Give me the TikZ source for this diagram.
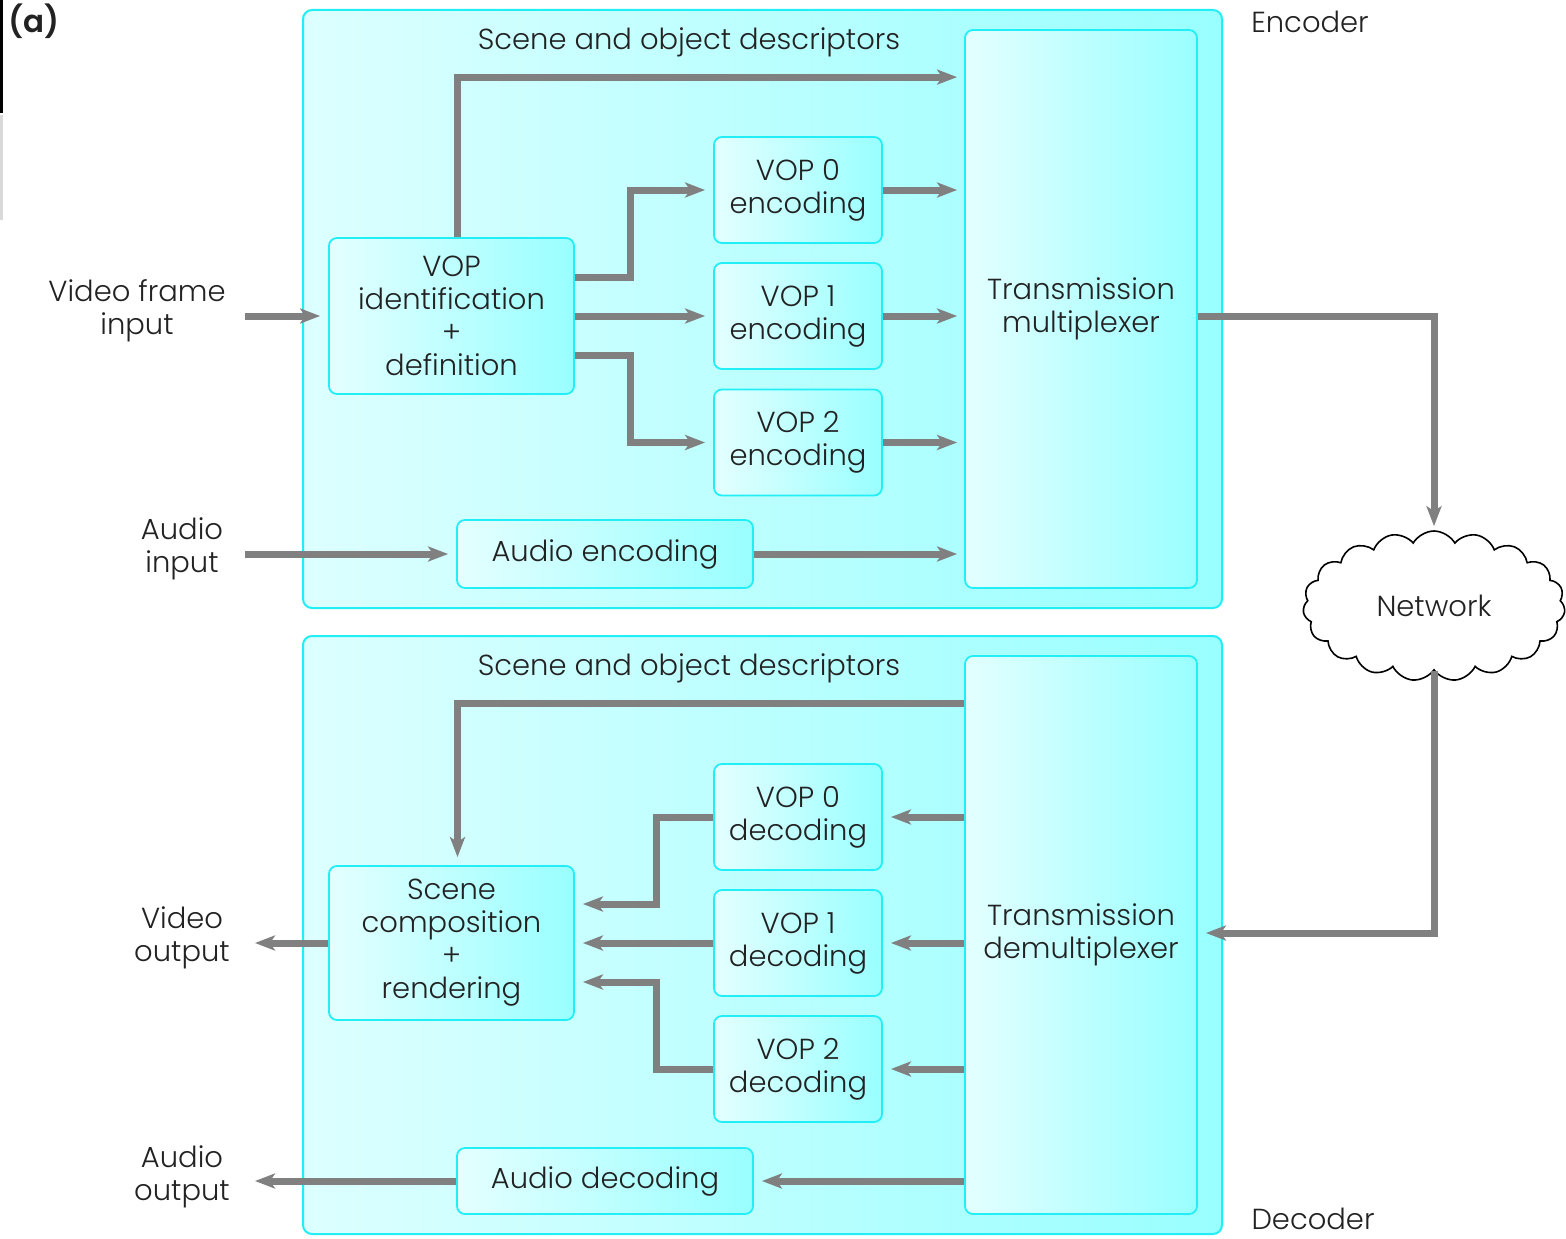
\documentclass[tikz,border=0pt]{standalone}
\usepackage{fontspec}
\setmainfont{Poppins}[UprightFont={* Light}, BoldFont={* SemiBold}]
\usetikzlibrary{arrows.meta,shapes.symbols,calc}
\definecolor{panelL}{HTML}{DDFFFF}
\definecolor{panelR}{HTML}{99FFFF}
\definecolor{boxL}{HTML}{E4FFFF}
\definecolor{boxR}{HTML}{99FFFF}
\definecolor{edge}{HTML}{22EEF5}
\definecolor{wire}{HTML}{808080}
\definecolor{ink}{HTML}{222222}
\begin{document}
\begin{tikzpicture}[x=1pt,y=-1pt,
  every node/.style={font=\fontsize{29}{33}\selectfont, text=ink},
  panel/.style={draw=edge, line width=2pt, rounded corners=9pt, shade, left color=panelL, right color=panelR, inner sep=0pt},
  blk/.style={draw=edge, line width=1.8pt, rounded corners=8pt, shade, left color=boxL, right color=boxR, align=center, inner sep=0pt},
  lbl/.style={align=center, inner sep=0pt},
  arr/.style={draw=wire, line width=7pt, -{Stealth[length=20pt,width=15pt,inset=5pt]}, shorten >=8pt}
]
\useasboundingbox (0,0) rectangle (1566,1239);
\fill[white] (0,0) rectangle (1566,1239);
% edge strip at the far left
\fill[black] (0,0) rectangle (3,113);
\fill[gray!30] (0,115) rectangle (3,220);

% panels
\node[panel, minimum width=919pt, minimum height=598pt] (encp) at (762.5,309) {};
\node[panel, minimum width=919pt, minimum height=598pt] (decp) at (762.5,935) {};

% encoder blocks
\node[blk, minimum width=232pt, minimum height=558pt] (mux) at (1081,309) {Transmission\\multiplexer};
\node[blk, minimum width=245pt, minimum height=156pt] (vopid) at (451.5,316) {VOP\\identification\\+\\definition};
\node[blk, minimum width=168pt, minimum height=106pt] (venc0) at (798,190) {VOP 0\\encoding};
\node[blk, minimum width=168pt, minimum height=106pt] (venc1) at (798,316) {VOP 1\\encoding};
\node[blk, minimum width=168pt, minimum height=106pt] (venc2) at (798,442.5) {VOP 2\\encoding};
\node[blk, minimum width=296pt, minimum height=68pt] (aenc) at (605,554) {Audio encoding};

% decoder blocks
\node[blk, minimum width=232pt, minimum height=558pt] (demux) at (1081,935) {Transmission\\demultiplexer};
\node[blk, minimum width=245pt, minimum height=154pt] (scene) at (451.5,943) {Scene\\composition\\+\\rendering};
\node[blk, minimum width=168pt, minimum height=106pt] (vdec0) at (798,817) {VOP 0\\decoding};
\node[blk, minimum width=168pt, minimum height=106pt] (vdec1) at (798,943) {VOP 1\\decoding};
\node[blk, minimum width=168pt, minimum height=106pt] (vdec2) at (798,1069) {VOP 2\\decoding};
\node[blk, minimum width=296pt, minimum height=66pt] (adec) at (605,1181) {Audio decoding};

% network
\node[cloud, cloud puffs=19, cloud puff arc=120, draw=black, line width=1.6pt, fill=white,
      minimum width=262pt, minimum height=150pt, aspect=1.8] (net) at (1434,606) {Network};

% labels
\node[lbl, font=\fontsize{31}{33}\bfseries] (tag) at (34,21) {(a)};
\node[lbl] (enclbl) at (1310,22) {Encoder};
\node[lbl] (declbl) at (1313,1219) {Decoder};
\node[lbl] (sdenc) at (689,42) {Scene and object descriptors};
\node[lbl] (sddec) at (689,668) {Scene and object descriptors};
\node[lbl] (vinl) at (137,311) {Video frame\\input};
\node[lbl] (ainl) at (182,549) {Audio\\input};
\node[lbl] (voutl) at (182,938) {Video\\output};
\node[lbl] (aoutl) at (182,1177) {Audio\\output};

% free ends of the outside connectors
\coordinate (vin) at (245,316);
\coordinate (ain) at (245,554);
\coordinate (vout) at (255,943);
\coordinate (aout) at (255,1181);

% encoder connectors
\draw[arr] (vin) -- (vopid.west);
\draw[arr] (ain) -- (aenc.west);
\draw[arr, shorten >=7pt] ([xshift=6pt]vopid.north) |- ([yshift=-48pt]mux.north west);
\draw[arr] ([yshift=39pt]vopid.east) -- ++(56,0) |- (venc0.west);
\draw[arr] (vopid.east) -- (venc1.west);
\draw[arr] ([yshift=-39pt]vopid.east) -- ++(56,0) |- (venc2.west);
\draw[arr, shorten >=7pt] (venc0.east) -- (venc0.east -| mux.west);
\draw[arr, shorten >=7pt] (venc1.east) -- (venc1.east -| mux.west);
\draw[arr, shorten >=7pt] (venc2.east) -- (venc2.east -| mux.west);
\draw[arr, shorten >=7pt] (aenc.east) -- (aenc.east -| mux.west);

% network path
\draw[arr, shorten >=4pt] (mux.east |- venc1.east) -| (net.north);
\draw[arr] (net.south) |- ([yshift=2pt]demux.east);

% decoder connectors
\draw[arr] ([yshift=-48pt]demux.north west) -| ([xshift=6pt]scene.north);
\draw[arr] (vdec0.east -| demux.west) -- (vdec0.east);
\draw[arr] (vdec1.east -| demux.west) -- (vdec1.east);
\draw[arr] (vdec2.east -| demux.west) -- (vdec2.east);
\draw[arr] (adec.east -| demux.west) -- (adec.east);
\draw[arr] (vdec0.west) -- ++(-57,0) |- ([yshift=39pt]scene.east);
\draw[arr] (vdec1.west) -- (scene.east);
\draw[arr] (vdec2.west) -- ++(-57,0) |- ([yshift=-39pt]scene.east);
\draw[arr, shorten >=0pt] (scene.west) -- (vout);
\draw[arr, shorten >=0pt] (adec.west) -- (aout);
\end{tikzpicture}
\end{document}
